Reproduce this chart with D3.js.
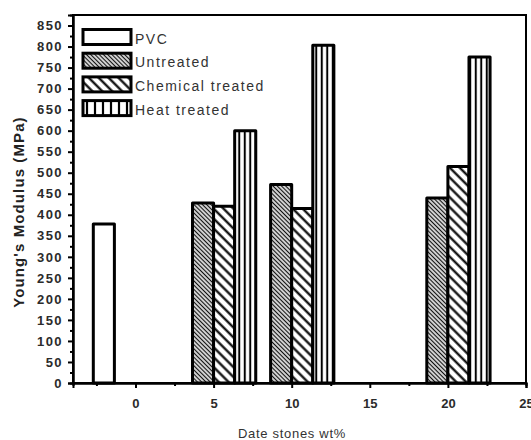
<!DOCTYPE html>
<html>
<head>
<meta charset="utf-8">
<title>Young's Modulus</title>
<script src="https://cdn.jsdelivr.net/npm/d3@7"></script>
<style>
  body { margin: 0; background: #fff; }
  svg { display: block; font-family: Arial, "Liberation Sans", sans-serif; }
  .tick text { fill: #2b2b2b; }
</style>
</head>
<body>
<div id="chart"></div>
<script>
// data
var groups = [5, 10, 20];
var series = ["PVC", "Untreated", "Chemical treated", "Heat treated"];
var pvcValue = 378;
var untreated = [428, 472, 440];
var chemical = [420, 415, 515];
var heat = [600, 803, 775];
var yTicks = d3.range(0, 851, 50);
var xTicks = [0, 5, 10, 15, 20, 25];

var width = 531, height = 440;
var margin = { left: 73, right: 5, top: 15, bottom: 57 };

var svg = d3.select("#chart").append("svg")
    .attr("width", width)
    .attr("height", height);

var x = d3.scaleLinear().domain([-4, 25]).range([margin.left, width - margin.right]);
var y = d3.scaleLinear().domain([0, 875]).range([height - margin.bottom, margin.top]);

var barW = 1.35; // in x units, four series side by side

// patterns
var defs = svg.append("defs");

function hatch(id, period, lineW, angle, color) {
    var p = defs.append("pattern")
        .attr("id", id)
        .attr("patternUnits", "userSpaceOnUse")
        .attr("width", period)
        .attr("height", 10)
        .attr("patternTransform", "rotate(" + angle + ")");
    p.append("rect").attr("width", period).attr("height", 10).attr("fill", "#fff");
    p.append("line")
        .attr("x1", period / 2).attr("x2", period / 2)
        .attr("y1", 0).attr("y2", 10)
        .attr("stroke", color)
        .attr("stroke-width", lineW);
}
hatch("untreated", 3, 1.4, -45, "#111");
hatch("chemical", 7, 2.2, -45, "#000");
hatch("heat", 5.5, 2, 0, "#000");
hatch("heatLegend", 8, 2.2, 0, "#000");

var fills = { "PVC": "#fff", "Untreated": "url(#untreated)",
              "Chemical treated": "url(#chemical)", "Heat treated": "url(#heat)" };

// bar records
var bars = [{ s: 0, g: 0, v: pvcValue }];
groups.forEach(function(g, i) {
    bars.push({ s: 1, g: g, v: untreated[i] });
    bars.push({ s: 2, g: g, v: chemical[i] });
    bars.push({ s: 3, g: g, v: heat[i] });
});

svg.append("g").selectAll("rect")
    .data(bars)
    .enter().append("rect")
    .attr("x", function(d) { return x(d.g + (d.s - 2) * barW); })
    .attr("width", function(d) { return x(d.g + (d.s - 1) * barW) - x(d.g + (d.s - 2) * barW); })
    .attr("y", function(d) { return y(d.v); })
    .attr("height", function(d) { return y(0) - y(d.v); })
    .attr("fill", function(d) { return fills[series[d.s]]; })
    .attr("stroke", "#000")
    .attr("stroke-width", 3)
    .attr("stroke-linejoin", "round");

// frame
svg.append("rect")
    .attr("x", x(-4)).attr("y", y(875))
    .attr("width", x(25) - x(-4)).attr("height", y(0) - y(875))
    .attr("fill", "none").attr("stroke", "#000").attr("stroke-width", 2);

// y axis
var yAxis = svg.append("g")
    .attr("transform", "translate(" + x(-4) + ",0)")
    .call(d3.axisLeft(y).tickValues(yTicks).tickSize(5).tickPadding(5));
yAxis.selectAll(".tick text")
    .attr("font-size", 13).attr("font-weight", "bold")
    .attr("letter-spacing", "1.4px");
svg.append("g")
    .attr("transform", "translate(" + x(-4) + ",0)")
    .call(d3.axisLeft(y).tickValues(d3.range(25, 850, 50)).tickSize(3).tickFormat(""));

// x axis
var xAxis = svg.append("g")
    .attr("transform", "translate(0," + y(0) + ")")
    .call(d3.axisBottom(x).tickValues(xTicks).tickSize(5).tickPadding(11));
xAxis.selectAll(".tick text")
    .attr("font-size", 13).attr("font-weight", "bold");
svg.append("g")
    .attr("transform", "translate(0," + y(0) + ")")
    .call(d3.axisBottom(x).tickValues([-2.5, 2.5, 7.5, 12.5, 17.5, 22.5]).tickSize(3).tickFormat(""));

svg.selectAll(".domain").attr("stroke", "#000").attr("stroke-width", 2);
svg.selectAll(".tick line").attr("stroke", "#000").attr("stroke-width", 2);

// axis titles
svg.append("text")
    .attr("transform", "translate(24,212) rotate(-90)")
    .attr("text-anchor", "middle")
    .attr("font-size", 15).attr("font-weight", "bold")
    .attr("letter-spacing", "1.1px")
    .attr("fill", "#222")
    .text("Young's Modulus (MPa)");

svg.append("text")
    .attr("x", 292).attr("y", 438)
    .attr("text-anchor", "middle")
    .attr("font-size", 13)
    .attr("letter-spacing", "0.7px")
    .attr("fill", "#333")
    .text("Date stones wt%");

// legend
var legendFills = ["#fff", "url(#untreated)", "url(#chemical)", "url(#heatLegend)"];
var legend = svg.append("g").selectAll("g")
    .data(series)
    .enter().append("g")
    .attr("transform", function(d, i) { return "translate(83," + (29.5 + i * 23.7) + ")"; });
legend.append("rect")
    .attr("width", 48).attr("height", 15)
    .attr("fill", function(d, i) { return legendFills[i]; })
    .attr("stroke", "#000").attr("stroke-width", 3);
legend.append("text")
    .attr("x", 52).attr("y", 14)
    .attr("font-size", 14)
    .attr("letter-spacing", "1.5px")
    .attr("fill", "#333")
    .text(function(d) { return d; });
</script>
</body>
</html>
